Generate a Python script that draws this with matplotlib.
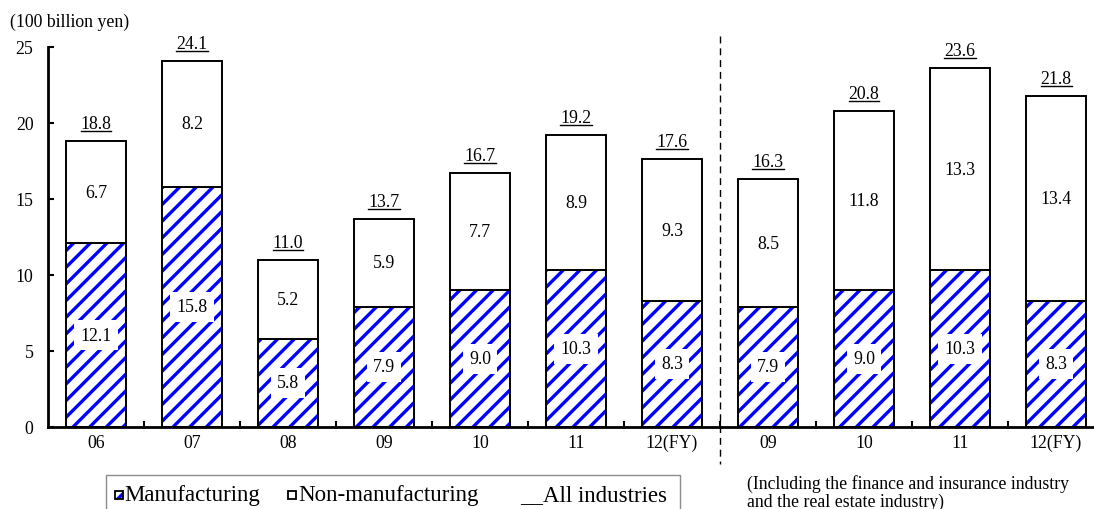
import matplotlib
matplotlib.use("Agg")
import matplotlib.pyplot as plt
from matplotlib.patches import Rectangle
from matplotlib.lines import Line2D
import numpy as np

plt.rcParams['font.family'] = ['Liberation Serif', 'DejaVu Serif']
plt.rcParams['hatch.linewidth'] = 2.4

categories = ['06', '07', '08', '09', '10', '11', '12(FY)', '09', '10', '11', '12(FY)']
manufacturing = [12.1, 15.8, 5.8, 7.9, 9.0, 10.3, 8.3, 7.9, 9.0, 10.3, 8.3]
non_manufacturing = [6.7, 8.2, 5.2, 5.9, 7.7, 8.9, 9.3, 8.5, 11.8, 13.3, 13.4]
all_industries = [18.8, 24.1, 11.0, 13.7, 16.7, 19.2, 17.6, 16.3, 20.8, 23.6, 21.8]
y_ticks = [0, 5, 10, 15, 20, 25]

W, H = 1094, 510
fig = plt.figure(figsize=(W / 100, H / 100), dpi=100)
ax = fig.add_axes([48 / W, (H - 428) / H, 1056 / W, 380 / H])

x = np.arange(len(categories))
manuf = np.array(manufacturing)
total = np.array(all_industries)
width = 0.625

# manufacturing (hatched)
ax.bar(x, manuf, width, color='white', edgecolor='#0000ff', hatch='//', linewidth=0.01, zorder=2)
ax.bar(x, manuf, width, fill=False, edgecolor='black', linewidth=1.4, zorder=3)
# non-manufacturing on top, reaching the total
ax.bar(x, total - manuf, width, bottom=manuf, color='white', edgecolor='black', linewidth=1.4, zorder=3)

fs = 12.8
base_off = 9.4
total_texts = []
for xi, m, nm, t in zip(x, manufacturing, non_manufacturing, all_industries):
    ax.text(xi, m / 2, f"{m:.1f}", ha='center', va='center', fontsize=fs, zorder=5,
            bbox=dict(boxstyle='square,pad=0.36', facecolor='white', edgecolor='none'))
    ax.text(xi, m + (t - m) / 2, f"{nm:.1f}", ha='center', va='center', fontsize=fs, zorder=5)
    tt = ax.annotate(f"{t:.1f}", (xi, t), xytext=(0, base_off),
                     textcoords='offset points', ha='center', va='baseline', fontsize=fs, zorder=5)
    total_texts.append(tt)

ax.set_xlim(-0.5, len(categories) - 0.5)
ax.set_ylim(0, 25)
ax.set_yticks(y_ticks)
ax.set_yticklabels([str(v) for v in y_ticks], fontsize=fs)
ax.set_xticks(x)
ax.set_xticklabels(categories, fontsize=fs)
ax.set_xticks(np.arange(0.5, len(categories), 1.0), minor=True)
ax.tick_params(axis='x', which='major', length=0, pad=5)
ax.tick_params(axis='x', which='minor', direction='in', length=4, width=1.5)
ax.tick_params(axis='y', direction='in', length=4, width=1.5, pad=10.5)

for s in ['top', 'right']:
    ax.spines[s].set_visible(False)
ax.spines['left'].set_linewidth(2)
ax.spines['bottom'].set_linewidth(2)
ax.spines['bottom'].set_zorder(4)

# separator dashed line
ax.plot([6.5, 6.5], [25.7, -2.45], color='black', lw=1, linestyle=(0, (5, 3.5)),
        clip_on=False, zorder=6)

# unit label
fig.text(10 / W, (H - 22) / H, "(100 billion yen)", fontsize=fs, ha='left', va='center')

# footnote
fig.text(747 / W, (H - 475) / H, "(Including the finance and insurance industry\nand the real estate industry)",
         fontsize=fs, ha='left', va='top', linespacing=1.06)

# manual legend
lg_fs = 16.5
fig.patches.append(Rectangle((106 / W, -0.05), (680 - 106) / W, 0.05 + (H - 476) / H,
                             transform=fig.transFigure, facecolor='white', edgecolor='#8c8c8c',
                             linewidth=1, figure=fig))
cy = (H - 496) / H
sq = 8
fig.patches.append(Rectangle((115 / W, cy - sq / 2 / H), sq / W, sq / H, transform=fig.transFigure,
                             facecolor='white', edgecolor='#0000ff', hatch='//', linewidth=0.01, figure=fig))
fig.patches.append(Rectangle((115 / W, cy - sq / 2 / H), sq / W, sq / H, transform=fig.transFigure,
                             fill=False, edgecolor='black', linewidth=1.3, figure=fig))
fig.text(124 / W, cy, "Manufacturing", fontsize=lg_fs, ha='left', va='center')
fig.patches.append(Rectangle((288 / W, cy - sq / 2 / H), sq / W, sq / H, transform=fig.transFigure,
                             facecolor='white', edgecolor='black', linewidth=1.3, figure=fig))
fig.text(298 / W, cy, "Non-manufacturing", fontsize=lg_fs, ha='left', va='center')
fig.text(520 / W, cy, "__All industries", fontsize=lg_fs, ha='left', va='center')

# underline the totals, using the rendered text extents
fig.canvas.draw()
renderer = fig.canvas.get_renderer()
inv = fig.transFigure.inverted()
for tt in total_texts:
    bb = tt.get_window_extent(renderer)
    base_disp = ax.transData.transform((0, tt.xy[1]))[1] + base_off * 100 / 72
    (x0, y0), (x1, y1) = inv.transform([(bb.x0, base_disp - 3), (bb.x1, base_disp - 3)])
    fig.lines.append(Line2D([x0, x1], [y0, y1], transform=fig.transFigure, color='black',
                            linewidth=1.0, figure=fig))

fig.savefig("out.png", dpi=100)
